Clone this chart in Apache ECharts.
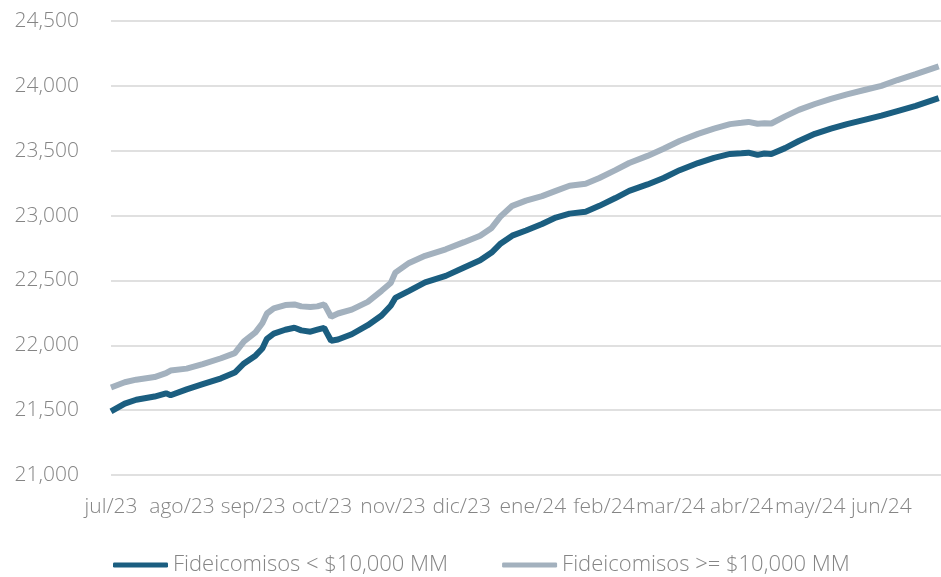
<!DOCTYPE html>
<html>
<head>
<meta charset="utf-8">
<title>Fideicomisos</title>
<script src="https://cdn.jsdelivr.net/npm/echarts@6/dist/echarts.min.js"></script>
<style>
    html, body { margin: 0; padding: 0; background: #fff; }
    #chart { width: 941px; height: 577px; }
</style>
</head>
<body>
<div id="chart"></div>
<script>
// fechas de lectura (aprox. semanales)
var dates = [
    '2023-07-01', '2023-07-07', '2023-07-12', '2023-07-20', '2023-07-25', '2023-07-27',
    '2023-08-03', '2023-08-10', '2023-08-18', '2023-08-24', '2023-08-28',
    '2023-09-02', '2023-09-05', '2023-09-07', '2023-09-10', '2023-09-15', '2023-09-19',
    '2023-09-22', '2023-09-26', '2023-09-29',
    '2023-10-02', '2023-10-03', '2023-10-05', '2023-10-08', '2023-10-14', '2023-10-21',
    '2023-10-27', '2023-10-31',
    '2023-11-02', '2023-11-08', '2023-11-15', '2023-11-24',
    '2023-12-02', '2023-12-09', '2023-12-14', '2023-12-18', '2023-12-23', '2023-12-29',
    '2024-01-05', '2024-01-11', '2024-01-17', '2024-01-24', '2024-01-30',
    '2024-02-06', '2024-02-12', '2024-02-20', '2024-02-27',
    '2024-03-05', '2024-03-13', '2024-03-20', '2024-03-27',
    '2024-04-01', '2024-04-04', '2024-04-08', '2024-04-11', '2024-04-14', '2024-04-20', '2024-04-26',
    '2024-05-03', '2024-05-10', '2024-05-17', '2024-05-25',
    '2024-06-01', '2024-06-08', '2024-06-16', '2024-06-26'
];

// Fideicomisos < $10,000 MM
var menores = [
    21490, 21550, 21580, 21605, 21630, 21615,
    21660, 21700, 21745, 21790, 21860,
    21920, 21975, 22050, 22090, 22120, 22135,
    22115, 22105, 22120,
    22135, 22100, 22035, 22045, 22085, 22155,
    22230, 22305,
    22365, 22420, 22485, 22535,
    22600, 22655, 22715, 22785, 22845, 22885,
    22935, 22985, 23015, 23030, 23075,
    23135, 23190, 23240, 23290,
    23350, 23405, 23445, 23475,
    23480, 23485, 23468, 23478, 23475, 23520, 23575,
    23630, 23670, 23705, 23740,
    23770, 23805, 23845, 23905
];

// Fideicomisos >= $10,000 MM
var mayores = [
    21675, 21715, 21735, 21755, 21785, 21805,
    21820, 21855, 21900, 21940, 22030,
    22100, 22170, 22245, 22285, 22310, 22315,
    22300, 22295, 22300,
    22315, 22285, 22220, 22245, 22275, 22335,
    22420, 22480,
    22560, 22635, 22690, 22740,
    22795, 22845, 22905, 22995, 23075, 23115,
    23150, 23190, 23230, 23245, 23290,
    23350, 23405, 23460, 23515,
    23575, 23630, 23670, 23705,
    23715, 23722, 23708, 23712, 23710, 23765, 23815,
    23860, 23900, 23935, 23970,
    24000, 24045, 24090, 24150
];

// etiquetas del eje x
var monthTicks = [
    '2023-07-01', '2023-08-01', '2023-09-01', '2023-10-01', '2023-11-01', '2023-12-01',
    '2024-01-01', '2024-02-01', '2024-03-01', '2024-04-01', '2024-05-01', '2024-06-01'
];
var monthLabels = [
    'jul/23', 'ago/23', 'sep/23', 'oct/23', 'nov/23', 'dic/23',
    'ene/24', 'feb/24', 'mar/24', 'abr/24', 'may/24', 'jun/24'
];

var seriesNames = ['Fideicomisos < $10,000 MM', 'Fideicomisos >= $10,000 MM'];
var seriesColors = ['#1b5e80', '#a3b1be'];

//convierte 'yyyy-MM-dd' a milisegundos
function toTime(str) {
    var p = str.split('-');
    return new Date(+p[0], +p[1] - 1, +p[2]).getTime();
}

var tickTimes = monthTicks.map(toTime);

function toPairs(values) {
    return values.map(function (v, i) {
        return [toTime(dates[i]), v];
    });
}

var textColor = '#858585';
var fontFamily = '"Open Sans", "Noto Sans", sans-serif';

var myChart = echarts.init(document.getElementById('chart'));
var option = {
    animation: false,
    textStyle: { fontFamily: fontFamily, fontWeight: 300 },
    grid: {
        left: 111,
        right: 0,
        top: 21,
        bottom: 102
    },
    legend: {
        data: seriesNames,
        left: 113,
        top: 554,
        padding: 0,
        icon: 'roundRect',
        itemWidth: 55,
        itemHeight: 5,
        itemGap: 54,
        textStyle: { color: textColor, fontSize: 22, fontFamily: fontFamily, fontWeight: 300 }
    },
    xAxis: {
        type: 'value',
        min: toTime('2023-07-01'),
        max: toTime('2024-06-27'),
        axisLine: { show: false },
        axisTick: { show: false },
        splitLine: { show: false },
        axisLabel: {
            customValues: tickTimes,
            color: textColor,
            fontSize: 21,
            fontWeight: 300,
            margin: 22,
            formatter: function (value) {
                var idx = tickTimes.indexOf(value);
                return idx >= 0 ? monthLabels[idx] : '';
            }
        }
    },
    yAxis: {
        type: 'value',
        min: 21000,
        max: 24500,
        interval: 500,
        axisLine: { show: false },
        axisTick: { show: false },
        splitLine: { lineStyle: { color: '#e0e0e0', width: 2 } },
        axisLabel: {
            color: textColor,
            fontSize: 21,
            fontWeight: 300,
            margin: 32,
            formatter: function (v) {
                return v.toLocaleString('en-US');
            }
        }
    },
    series: [
        {
            name: seriesNames[0],
            type: 'line',
            data: toPairs(menores),
            showSymbol: false,
            symbol: 'none',
            z: 3,
            itemStyle: { color: seriesColors[0] },
            lineStyle: { color: seriesColors[0], width: 6 }
        },
        {
            name: seriesNames[1],
            type: 'line',
            data: toPairs(mayores),
            showSymbol: false,
            symbol: 'none',
            z: 2,
            itemStyle: { color: seriesColors[1] },
            lineStyle: { color: seriesColors[1], width: 6 }
        }
    ]
};
myChart.setOption(option);
</script>
</body>
</html>
